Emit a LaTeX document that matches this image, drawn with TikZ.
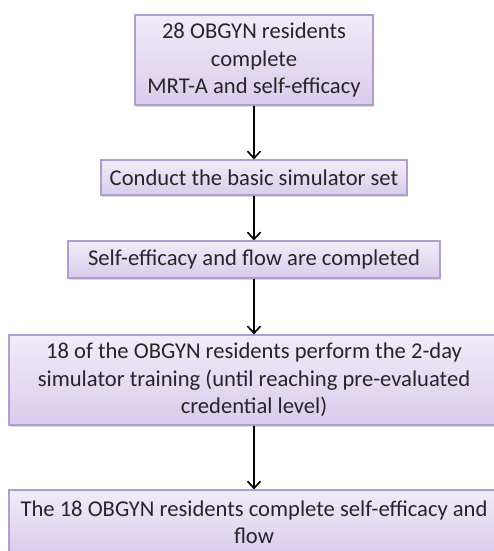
\documentclass[tikz,border=0pt]{standalone}
\usepackage{fontspec}
\setmainfont{Carlito}
\usetikzlibrary{arrows.meta,shadows}
\definecolor{boxtop}{HTML}{F1ECF8}
\definecolor{boxbot}{HTML}{D9CCEC}
\definecolor{boxline}{HTML}{AE9FCC}
\definecolor{txt}{HTML}{262626}
\tikzset{
  flowbox/.style={draw=boxline, line width=1.2pt, top color=boxtop, bottom color=boxbot,
    rectangle, align=center, inner sep=0pt, text=txt,
    font=\fontsize{22.6}{27.5}\selectfont,
    drop shadow={shadow xshift=0.6pt, shadow yshift=-1.8pt, opacity=0.3, fill=black!50}},
  flowarrow/.style={line width=1.8pt, black, -{Straight Barb[length=7pt,width=13pt,line width=1.6pt]}}
}
\begin{document}
\begin{tikzpicture}[x=1pt,y=1pt]
\useasboundingbox (0,0) rectangle (494,-551);
\begin{scope}
\clip (0,0) rectangle (494,-551);
\node[flowbox, minimum width=238pt, minimum height=90pt] (b1) at (254,-60)
  {28 OBGYN residents\\complete\\MRT-A and self-efficacy};
\node[flowbox, minimum width=306pt, minimum height=35pt] (b2) at (254,-177.5)
  {Conduct the basic simulator set};
\node[flowbox, minimum width=372pt, minimum height=37pt] (b3) at (254,-259.5)
  {Self-efficacy and flow are completed};
\node[flowbox, minimum width=490pt, minimum height=90pt] (b4) at (254,-380)
  {18 of the OBGYN residents perform the 2-day\\simulator training (until reaching pre-evaluated\\credential level)};
\node[flowbox, minimum width=490pt, minimum height=64pt] (b5) at (254,-522)
  {The 18 OBGYN residents complete self-efficacy and\\flow};
\draw[flowarrow] (b1.south) -- (b2.north);
\draw[flowarrow] (b2.south) -- (b3.north);
\draw[flowarrow] (b3.south) -- (b4.north);
\draw[flowarrow] (b4.south) -- (b5.north);
\end{scope}
\end{tikzpicture}
\end{document}
